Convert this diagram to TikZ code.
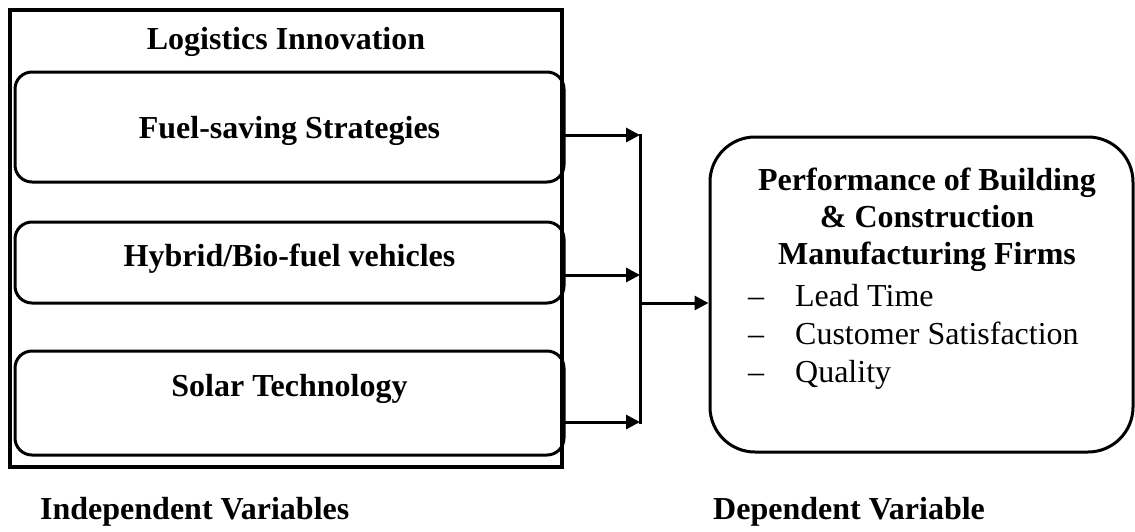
\documentclass[tikz,border=0pt]{standalone}
\usepackage{fontspec}
\setmainfont{Liberation Serif}
\usepackage{tikz}
\usetikzlibrary{shapes,arrows.meta,positioning}
\tikzstyle{outerbox} = [draw, line width=4pt, minimum width=552pt, minimum height=457pt, inner sep=0pt]
\tikzstyle{varbox} = [draw, line width=3pt, rounded corners=17pt, minimum width=549pt, inner sep=0pt]
\tikzstyle{perfbox} = [draw, line width=3pt, rounded corners=45pt, minimum width=423pt, minimum height=315pt, inner sep=0pt]
\tikzstyle{btext} = [font=\fontsize{32}{37}\selectfont\bfseries, align=center, inner sep=0pt]
\tikzstyle{ptext} = [font=\fontsize{32}{38}\selectfont, align=left, inner sep=0pt]
\tikzstyle{tedge} = [draw, line width=3pt, -{Triangle[length=14pt, width=14pt]}]
\tikzstyle{tline} = [draw, line width=3pt]

\begin{document}
\begin{tikzpicture}[x=1pt, y=-1pt]
\useasboundingbox (0,0) rectangle (1135,531);

% independent variables ==================

\node[outerbox] (innov) at (286,238.5) {};
\node[btext] (innovtxt) at (286,42) {Logistics Innovation};

\node[varbox, minimum height=110pt] (fuel) at (289.5,127) {};
\node[varbox, minimum height=81pt] (hybrid) at (289.5,262.5) {};
\node[varbox, minimum height=104pt] (solar) at (289.5,403) {};
\node[btext] (fueltxt) at (289.5,131) {Fuel-saving Strategies};
\node[btext] (hybridtxt) at (289.5,259) {Hybrid/Bio-fuel vehicles};
\node[btext] (solartxt) at (289.5,389) {Solar Technology};

% dependent variable
\node[perfbox] (perf) at (921.5,294.5) {};
\node[btext] (perfhead) at (927,220) {Performance of Building\\\& Construction\\Manufacturing Firms};
\node[ptext, anchor=north west] (perflist) at (748,280) {%
  \begin{tabular}{@{}p{47pt}@{}l@{}}
  \textendash & Lead Time\\
  \textendash & Customer Satisfaction\\
  \textendash & Quality
  \end{tabular}};

% captions
\node[btext, anchor=west] (indeplbl) at (40,512) {Independent Variables};
\node[btext, anchor=west] (deplbl) at (713,512) {Dependent Variable};

% joints
\coordinate (j1) at (640,135);
\coordinate (j2) at (640,275);
\coordinate (j3) at (640,422);
\coordinate (jout) at (640,303);

%edges
\path[tedge] (innov.east |- j1) -- (j1);
\path[tedge] (innov.east |- j2) -- (j2);
\path[tedge] (innov.east |- j3) -- (j3);
\path[tline] ([yshift=1.5pt]j1) -- ([yshift=-1.5pt]j3);
\path[tedge] (jout) -- (perf.west |- jout);

\end{tikzpicture}
\end{document}
